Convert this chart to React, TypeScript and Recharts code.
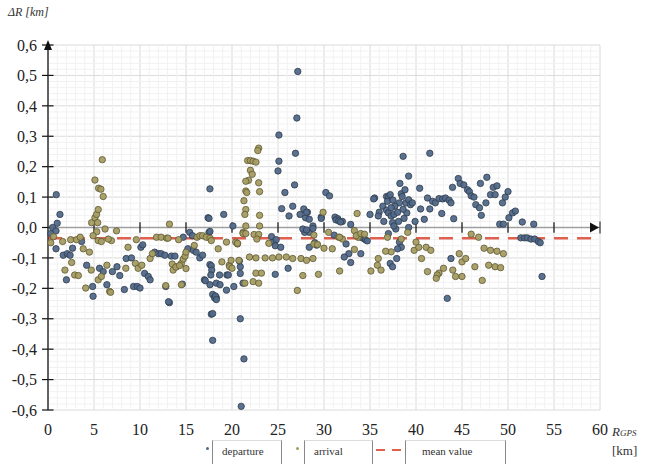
import React from 'react';
import {
  ScatterChart, Scatter, XAxis, YAxis, CartesianGrid, ReferenceLine, ReferenceDot,
} from 'recharts';

const xTicks = [0, 5, 10, 15, 20, 25, 30, 35, 40, 45, 50, 55, 60];
const yTicks = [-0.6, -0.5, -0.4, -0.3, -0.2, -0.1, 0, 0.1, 0.2, 0.3, 0.4, 0.5, 0.6];
const meanValue = -0.035;
const legendLabels = ['departure', 'arrival', 'mean value'];

const departure: number[][] = [
  [0.3,-0.02],[0.5,0.0],[0.9,0.108],[1.3,0.043],[1.0,0.014],[0.87,-0.011],[0.87,-0.07],[1.66,-0.091],[2.1,-0.086],[2.4,-0.091],
  [2.67,-0.068],[2.0,-0.172],[3.65,-0.046],[4.2,-0.124],[4.85,-0.194],[4.9,-0.226],[5.6,-0.134],[6.0,-0.145],[6.4,-0.188],[7.0,-0.145],
  [7.5,-0.129],[7.8,-0.158],[8.5,-0.102],[8.3,-0.204],[9.07,-0.1],[9.3,-0.194],[9.7,-0.194],[10.0,-0.199],[10.1,-0.065],[10.3,-0.057],
  [10.5,-0.151],[10.9,-0.161],[11.1,-0.172],[11.6,-0.081],[12.0,-0.086],[12.3,-0.086],[12.7,-0.091],[12.8,-0.194],[13.2,-0.247],[13.4,-0.094],
  [13.8,-0.094],[14.6,-0.186],[14.7,-0.032],[15.2,-0.07],[15.4,-0.016],[15.7,-0.027],[15.8,-0.075],[16.1,-0.081],[16.5,-0.1],[16.8,-0.091],
  [17.0,-0.172],[17.4,0.032],[17.5,-0.016],[17.6,0.127],[17.6,-0.122],[17.75,-0.126],[17.8,-0.14],[17.9,-0.22],[18.1,-0.231],[18.3,-0.231],
  [18.2,-0.225],[17.75,-0.285],[17.9,-0.283],[17.6,-0.188],[18.3,-0.183],[18.65,-0.156],[19.1,0.043],[19.45,-0.156],[20.2,-0.194],[20.9,-0.151],
  [21.2,-0.183],[20.9,-0.3],[21.0,-0.588],[21.3,-0.432],[17.9,-0.371],[18.3,-0.237],[18.7,-0.188],[17.7,-0.156],[17.1,-0.175],[19.4,-0.206],
  [19.6,-0.156],[20.9,-0.129],[20.8,-0.11],[24.7,-0.154],[26.1,-0.134],[13.1,-0.244],[17.5,0.03],[17.6,-0.013],[20.1,0.005],
  [27.15,0.513],[27.05,0.36],[26.9,0.244],[26.8,0.14],[25.1,0.304],[25.1,0.218],[25.0,0.186],[25.75,0.115],[25.4,0.062],[26.6,0.07],
  [26.2,0.038],[24.3,-0.03],[24.5,-0.048],[24.8,-0.04],[24.7,-0.06],[25.3,-0.065],[27.8,0.061],[27.4,0.043],[28.0,0.032],[28.2,0.05],
  [28.8,0.005],[28.4,-0.016],[27.9,-0.016],[28.4,-0.065],[29.0,-0.05],[29.2,-0.058],[30.2,0.115],[30.6,0.104],[29.7,0.034],[31.2,0.034],
  [31.5,0.029],[32.0,0.02],[32.9,0.01],[35.0,0.043],[35.5,0.097],[36.0,0.05],[28.1,0.05],[27.7,-0.005],[28.1,-0.008],[28.8,-0.003],
  [28.4,0.027],[29.7,0.03],[31.1,-0.025],[31.3,0.025],[31.6,0.022],[31.8,0.018],[32.4,-0.054],[32.7,-0.086],[32.2,-0.097],[32.9,-0.115],
  [34.0,-0.086],[34.0,-0.032],[34.3,-0.036],[34.5,-0.04],[34.7,-0.044],[35.4,0.094],[35.9,0.038],[36.4,0.07],
  [36.8,0.102],[37.0,0.1],[37.2,0.108],[36.9,0.086],[36.8,0.057],[37.0,0.048],[37.3,0.038],[37.6,0.043],[38.0,0.05],[38.25,0.145],
  [38.4,0.111],[38.5,0.102],[38.2,0.081],[38.8,0.124],[38.9,0.081],[39.0,0.048],[39.2,0.169],[39.2,0.091],[39.4,0.075],[37.45,0.016],
  [37.8,-0.005],[37.6,0.005],[38.2,-0.048],[38.4,-0.065],[38.0,-0.07],[37.9,-0.102],[37.2,-0.118],[37.45,-0.129],[39.2,0.0],[39.9,0.02],
  [39.6,0.081],[38.6,0.234],[37.5,0.09],[37.7,0.07],[38.1,0.02],[37.3,0.065],[38.6,0.06],[36.5,0.02],[37.0,-0.02],[38.7,0.03],
  [40.4,0.129],[40.5,0.061],[40.9,0.027],[41.25,0.097],[41.5,0.061],[41.8,0.086],[42.1,0.081],[42.5,0.095],[42.9,0.094],[43.2,0.097],
  [43.6,0.09],[43.8,0.081],[42.8,0.046],[44.1,0.029],[43.97,0.132],[44.6,0.161],[44.8,0.145],[45.2,0.14],[45.6,0.124],[45.8,0.118],
  [46.0,0.104],[46.3,0.1],[46.5,0.075],[46.9,0.065],[47.1,0.04],[47.0,0.145],[47.7,0.165],[47.6,0.081],[48.4,0.132],[48.8,0.137],
  [48.1,0.108],[48.6,0.108],[49.4,0.081],[49.7,0.1],[50.0,0.118],[49.1,0.011],[49.5,0.011],[50.1,0.032],[50.5,0.048],[50.8,0.054],
  [51.55,0.018],[52.8,0.011],[51.4,-0.034],[51.8,-0.034],[52.1,-0.034],[52.5,-0.038],[52.9,-0.038],[53.3,-0.046],[53.5,-0.05],[53.7,-0.161],
  [41.5,0.244],[43.4,-0.233],[43.8,-0.102],
];

const arrival: number[][] = [
  [0.3,-0.05],[0.6,-0.03],[1.59,-0.046],[2.46,-0.04],[3.1,-0.04],[3.5,-0.032],[1.84,-0.14],[2.57,-0.115],[2.9,-0.156],[3.3,-0.158],
  [3.83,-0.07],[4.1,-0.199],[4.5,-0.081],[4.7,-0.14],[4.74,0.016],[5.1,0.032],[5.28,0.043],[5.46,0.059],[5.1,0.156],[5.5,0.129],
  [5.75,0.126],[6.0,0.102],[5.9,0.223],[5.4,0.016],[5.3,-0.014],[4.9,-0.027],[5.46,-0.043],[5.8,-0.046],[6.2,-0.005],[6.9,-0.043],
  [7.45,-0.011],[6.55,-0.038],[5.46,-0.172],[5.8,-0.161],[6.4,-0.124],[6.7,-0.21],[6.8,-0.213],[8.46,-0.134],[8.7,-0.065],[9.5,-0.118],
  [9.8,-0.134],[9.6,-0.04],[10.2,-0.124],[11.1,-0.102],[11.35,-0.086],[11.8,-0.032],[12.3,-0.032],[12.9,-0.035],[13.2,0.011],[13.05,-0.035],
  [13.6,-0.14],[13.95,-0.129],[14.2,-0.04],[14.5,-0.118],[14.7,-0.104],[14.9,-0.094],[15.0,-0.081],[15.9,-0.059],[16.2,-0.032],[16.5,-0.027],
  [16.8,-0.027],[17.2,-0.032],[17.6,-0.035],[17.75,-0.043],[18.5,-0.07],[18.9,-0.113],[19.4,-0.048],[19.7,-0.124],[19.75,-0.129],[19.9,-0.108],
  [20.0,-0.134],[20.4,-0.048],[20.6,-0.054],[20.75,-0.108],[21.2,-0.016],[12.8,-0.191],[14.5,-0.188],[13.5,-0.12],[13.9,-0.13],[14.3,-0.125],
  [15.0,-0.135],
  [22.9,0.261],[22.8,0.253],[21.7,0.22],[22.0,0.22],[22.3,0.218],[22.6,0.215],[22.0,0.188],[22.2,0.175],[21.8,0.155],[21.5,0.152],
  [22.9,0.147],[23.0,0.118],[21.5,0.12],[21.6,0.115],[21.3,0.088],[21.5,0.059],[21.4,0.043],[23.0,0.04],[23.0,0.005],[21.5,0.005],
  [21.2,-0.02],[21.5,-0.02],[22.4,-0.023],[22.9,-0.023],[22.7,-0.038],[20.6,-0.052],[24.0,-0.052],[21.4,-0.183],[22.3,-0.178],[22.9,-0.183],
  [22.6,-0.15],[23.2,-0.15],[27.1,-0.207],
  [21.9,-0.097],[22.6,-0.1],[23.6,-0.1],[24.4,-0.1],[25.1,-0.097],[25.9,-0.097],[26.6,-0.102],[27.5,-0.102],[28.1,-0.108],[28.8,-0.102],
  [27.7,-0.158],[29.4,-0.154],[31.7,-0.143],[28.9,-0.025],[28.9,-0.054],[29.3,-0.056],[29.9,0.05],[30.5,-0.016],[31.6,-0.032],[32.0,-0.038],
  [30.9,-0.07],[30.0,-0.068],[33.6,0.046],[33.3,-0.072],[33.7,-0.032],[33.3,-0.01],[33.5,-0.027],[34.0,-0.02],[34.4,-0.022],[35.1,-0.143],
  [35.9,-0.102],[35.8,-0.124],[36.2,-0.14],[36.9,-0.032],[38.4,-0.038],[37.3,-0.08],[36.7,-0.078],[39.8,-0.075],[40.3,-0.065],[40.0,-0.048],
  [39.1,-0.016],[44.7,-0.086],[45.0,-0.113],[45.4,-0.102],[46.4,-0.129],[47.2,-0.174],[47.4,-0.068],[48.1,-0.075],[48.8,-0.078],[49.5,-0.086],
  [47.9,-0.124],[48.6,-0.129],[49.2,-0.132],[44.0,-0.14],[45.0,-0.161],[44.3,-0.161],[42.99,-0.134],[42.5,-0.15],[42.3,-0.156],[42.2,-0.167],
  [41.25,-0.145],[41.1,-0.065],[41.6,-0.075],[40.6,-0.102],[46.0,-0.022],[46.8,-0.032],[31.7,-0.032],
];

const depData = departure.map(([x, y]) => ({ x, y }));
const arrData = arrival.map(([x, y]) => ({ x, y }));

const minorX: number[] = [];
for (let i = 1; i < 60; i++) if (i % 5 !== 0) minorX.push(i);
const minorY: number[] = [];
for (let i = -29; i < 30; i++) if (i % 5 !== 0) minorY.push(i * 0.02);

const DEP_FILL = '#52698a';
const DEP_STROKE = '#2e3c4c';
const ARR_FILL = '#a59d62';
const ARR_STROKE = '#5e5833';

const dot = (fill: string, stroke: string) => (p: any) => (
  <circle cx={p.cx} cy={p.cy} r={3.2} fill={fill} stroke={stroke} strokeWidth={0.8} fillOpacity={0.95} />
);

const fmt = (v: number) => (Math.abs(v) < 1e-9 ? '0,0' : v.toFixed(1).replace('.', ','));

const upArrow = (p: any) => (
  <path d={`M${p.cx},${p.cy - 5} L${p.cx - 4},${p.cy + 5} L${p.cx + 4},${p.cy + 5} Z`} fill="#111" />
);
const rightArrow = (p: any) => (
  <g>
    <path d={`M${p.cx - 1},${p.cy} L${p.cx - 10},${p.cy - 5} L${p.cx - 10},${p.cy + 5} Z`} fill="#111" />
    <line x1={p.cx} y1={p.cy - 6} x2={p.cx} y2={p.cy + 6} stroke="#111" strokeWidth={1} />
  </g>
);

const font = "'Liberation Serif', 'DejaVu Serif', Tinos, Times, serif";

export default function App() {
  return (
    <div style={{ position: 'absolute', left: 0, top: 0, width: 652, height: 464, background: '#fff', fontFamily: font }}>
      <style>{`.rs-serif, .rs-serif text { font-family: ${font} !important; }`}</style>
      <div className="rs-serif">
        <ScatterChart width={652} height={464} margin={{ top: 45, right: 52, bottom: 29, left: 8 }}>
          {minorX.map((v) => (
            <ReferenceLine key={'mx' + v} x={v} stroke="#f1f1f1" strokeWidth={1} />
          ))}
          {minorY.map((v) => (
            <ReferenceLine key={'my' + v} y={v} stroke="#f1f1f1" strokeWidth={1} />
          ))}
          <CartesianGrid stroke="#dadada" strokeWidth={1} />
          <XAxis
            type="number" dataKey="x" domain={[0, 60]} ticks={xTicks} height={25}
            axisLine={false} tickLine={false} tickMargin={8} interval={0}
            tick={{ fill: '#222', fontSize: 16 }}
          />
          <YAxis
            type="number" dataKey="y" domain={[-0.6, 0.6]} ticks={yTicks} width={40} interval={0}
            tickFormatter={fmt} axisLine={{ stroke: '#333', strokeWidth: 1.5 }}
            tickLine={{ stroke: '#111', strokeWidth: 1.2 }} tickSize={6} tickMargin={5}
            tick={{ fill: '#222', fontSize: 16 }}
          />
          <ReferenceLine y={0} stroke="#a0a0a0" strokeWidth={1.6} />
          {yTicks.map((v) => (
            <ReferenceLine key={'yt' + v} ifOverflow="visible" stroke="#111" strokeWidth={1.2}
              segment={[{ x: 0, y: v }, { x: 0.6, y: v }]} />
          ))}
          {xTicks.slice(1, -1).map((v) => (
            <ReferenceLine key={'xt' + v} ifOverflow="visible" stroke="#111" strokeWidth={1.2}
              segment={[{ x: v, y: -0.017 }, { x: v, y: 0.017 }]} />
          ))}
          <ReferenceLine y={meanValue} stroke="#e0604f" strokeWidth={2.5} strokeDasharray="14 9" />
          <Scatter name={legendLabels[0]} data={depData} shape={dot(DEP_FILL, DEP_STROKE)} isAnimationActive={false} />
          <Scatter name={legendLabels[1]} data={arrData} shape={dot(ARR_FILL, ARR_STROKE)} isAnimationActive={false} />
          <ReferenceDot x={0} y={0.6} ifOverflow="visible" shape={upArrow} />
          <ReferenceDot x={60} y={0} ifOverflow="visible" shape={rightArrow} />
        </ScatterChart>
      </div>

      <div className="rs-serif" style={{ position: 'absolute', left: 8, top: 5, fontSize: 12, fontStyle: 'italic', color: '#333' }}>
        ΔR [km]
      </div>
      <div className="rs-serif" style={{ position: 'absolute', left: 612, top: 424, fontSize: 13, color: '#333' }}>
        <span style={{ fontStyle: 'italic' }}>R</span>
        <span style={{ fontStyle: 'italic', fontSize: 9 }}>GPS</span>
      </div>
      <div className="rs-serif" style={{ position: 'absolute', left: 612, top: 443, fontSize: 13, color: '#333' }}>[km]</div>

      <div style={{ position: 'absolute', left: 206, top: 447, width: 3, height: 3, borderRadius: 2, background: DEP_FILL }} />
      <div className="rs-serif" style={{ position: 'absolute', left: 212, top: 440, width: 70, height: 30, borderLeft: '1px solid #888', borderRight: '1px solid #888', borderTop: '1px solid #ddd', fontSize: 11, color: '#333', boxSizing: 'border-box', paddingLeft: 9, paddingTop: 4 }}>
        {legendLabels[0]}
      </div>
      <div style={{ position: 'absolute', left: 296, top: 447, width: 3, height: 3, borderRadius: 2, background: ARR_FILL }} />
      <div className="rs-serif" style={{ position: 'absolute', left: 304, top: 440, width: 69, height: 30, borderLeft: '1px solid #888', borderRight: '1px solid #888', borderTop: '1px solid #ddd', fontSize: 11, color: '#333', boxSizing: 'border-box', paddingLeft: 9, paddingTop: 4 }}>
        {legendLabels[1]}
      </div>
      <div style={{ position: 'absolute', left: 376, top: 449, width: 9, height: 2, background: '#e0604f' }} />
      <div style={{ position: 'absolute', left: 392, top: 449, width: 9, height: 2, background: '#e0604f' }} />
      <div className="rs-serif" style={{ position: 'absolute', left: 405, top: 440, width: 101, height: 30, borderLeft: '1px solid #888', borderRight: '1px solid #888', borderTop: '1px solid #ddd', fontSize: 11, color: '#333', boxSizing: 'border-box', paddingLeft: 16, paddingTop: 4 }}>
        {legendLabels[2]}
      </div>
    </div>
  );
}
